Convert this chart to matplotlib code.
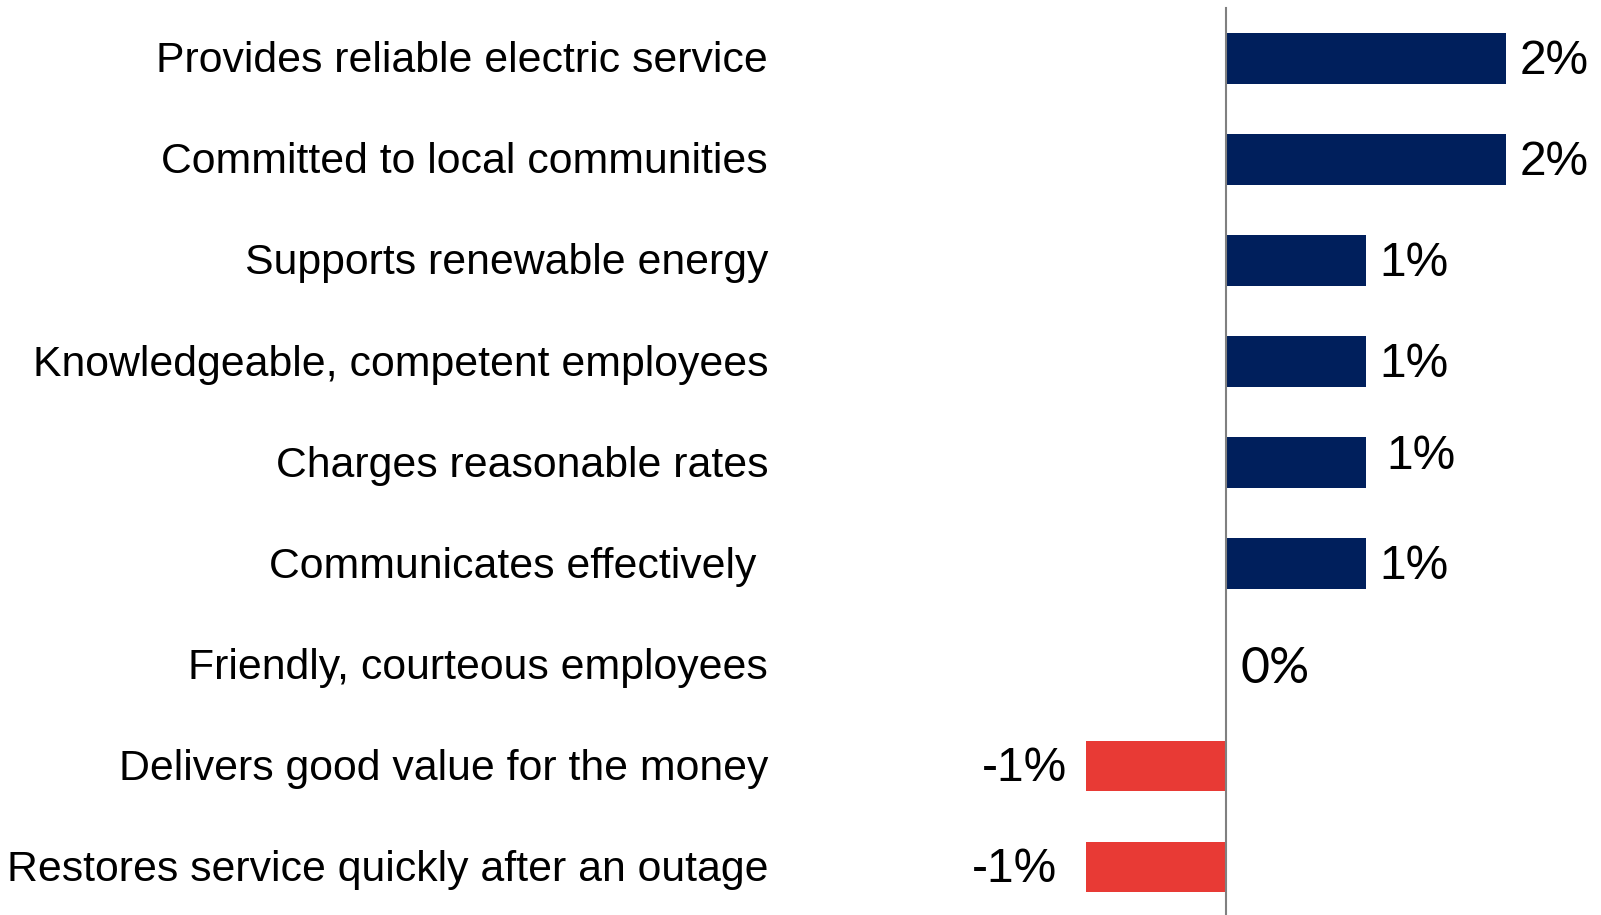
import matplotlib
matplotlib.use("Agg")
import matplotlib.pyplot as plt
import matplotlib.transforms as mtransforms

# Change in agreement with each attribute (percentage points)
categories = [
    "Provides reliable electric service",
    "Committed to local communities",
    "Supports renewable energy",
    "Knowledgeable, competent employees",
    "Charges reasonable rates",
    "Communicates effectively ",
    "Friendly, courteous employees",
    "Delivers good value for the money",
    "Restores service quickly after an outage",
]
changes = [2, 2, 1, 1, 1, 1, 0, -1, -1]

# Per-label nudges (pixels) for the value labels: (dx, dy)
label_nudge = [(0, 0), (0, 0), (0, 0), (0, 0), (7, 9), (0, 0), (0, 0), (0, 0), (-10, 0)]

POS_COLOR = "#001F5C"
NEG_COLOR = "#E83A35"

W, H, DPI = 1601, 915, 100
fig = plt.figure(figsize=(W / DPI, H / DPI), dpi=DPI)
top_px = 8.3
ax = fig.add_axes([0, 0, 1, 1 - top_px / H])

zero_px, unit_px = 1225.5, 140.0
ax.set_xlim(-zero_px / unit_px, (W - zero_px) / unit_px)
ax.set_ylim(8.475, -0.495)

ypos = list(range(len(categories)))
colors = [POS_COLOR if v >= 0 else NEG_COLOR for v in changes]
ax.barh(ypos, changes, height=0.5, color=colors, zorder=2)

for s in ["top", "right", "bottom"]:
    ax.spines[s].set_visible(False)
ax.spines["left"].set_position(("data", 0))
ax.spines["left"].set_color("#808080")
ax.spines["left"].set_linewidth(1.5)
ax.spines["left"].set_zorder(3)
ax.set_xticks([])
ax.set_yticks([])

px2pt = 72.0 / DPI
shift_down = -3 * px2pt

# Category labels, right-aligned in a column left of the axis
lab_tf = mtransforms.blended_transform_factory(fig.transFigure, ax.transData)
for y, name in zip(ypos, categories):
    ax.annotate(name, (768 / W, y), xycoords=lab_tf, xytext=(0, shift_down),
                textcoords="offset points", ha="right", va="center",
                fontsize=30.8, family="Liberation Sans", color="black")

# Value labels at the bar ends
for y, v, (dx, dy) in zip(ypos, changes, label_nudge):
    txt = f"{v}%"
    if v > 0:
        ax.annotate(txt, (v, y), xytext=((14 + dx) * px2pt, (dy - 3) * px2pt),
                    textcoords="offset points", ha="left", va="center",
                    fontsize=34.5, family="Liberation Sans")
    elif v < 0:
        ax.annotate(txt, (v, y), xytext=((-18 + dx) * px2pt, (dy - 3) * px2pt),
                    textcoords="offset points", ha="right", va="center",
                    fontsize=34.5, family="Liberation Sans")
    else:
        ax.annotate(txt, (v, y), xytext=(15 * px2pt, -4 * px2pt),
                    textcoords="offset points", ha="left", va="center",
                    fontsize=36, family=["Lato", "DejaVu Sans"])

fig.savefig("out.png", dpi=DPI, facecolor="white")
